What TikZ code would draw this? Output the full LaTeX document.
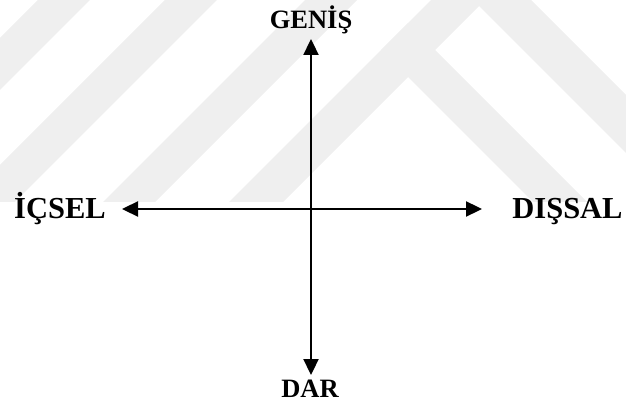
\documentclass[tikz,border=0pt]{standalone}
\usepackage{fontspec}
\setmainfont{Liberation Serif}
\usetikzlibrary{arrows.meta}
\definecolor{wm}{RGB}{239,239,239}
\tikzset{
  axisline/.style={line width=2.3pt, {Triangle[length=16pt,width=15pt]}-{Triangle[length=16pt,width=15pt]}},
  sidelabel/.style={font=\bfseries\fontsize{30.5}{34}\selectfont, inner sep=0pt, anchor=base},
  endlabel/.style={font=\bfseries\fontsize{26.5}{30}\selectfont, inner sep=0pt, anchor=base},
  wmband/.style={fill=wm, draw=none}
}
\begin{document}
\begin{tikzpicture}[x=1pt,y=-1pt]
\useasboundingbox (0,0) rectangle (626,403);
% faint watermark stripes
\begin{scope}
\clip (0,0) rectangle (626,201.5);
\fill[wmband] (38,0) -- (90,0) -- (-112,202) -- (-164,202) -- cycle;
\fill[wmband] (165,0) -- (217,0) -- (15,202) -- (-37,202) -- cycle;
\fill[wmband] (305,0) -- (357,0) -- (155,202) -- (103,202) -- cycle;
\fill[wmband] (431,0) -- (485,0) -- (283,202) -- (229,202) -- cycle;
\fill[wmband] (381,50) -- (408,23) -- (587,202) -- (533,202) -- cycle;
\fill[wmband] (473,0) -- (531,0) -- (733,202) -- (675,202) -- cycle;
\end{scope}
% axis end points
\coordinate (ttip) at (311,39);
\coordinate (btip) at (311,375);
\coordinate (ltip) at (122,209);
\coordinate (rtip) at (482,209);
\draw[axisline] (ttip) -- (btip);
\draw[axisline] (ltip) -- (rtip);
% labels
\node[endlabel] (genis) at (311,29) {GENİŞ};
\node[endlabel] (dar) at (310,397.5) {DAR};
\node[sidelabel] (icsel) at (60,219) {İÇSEL};
\node[sidelabel] (dissal) at (567.5,219) {DIŞSAL};
\end{tikzpicture}
\end{document}
